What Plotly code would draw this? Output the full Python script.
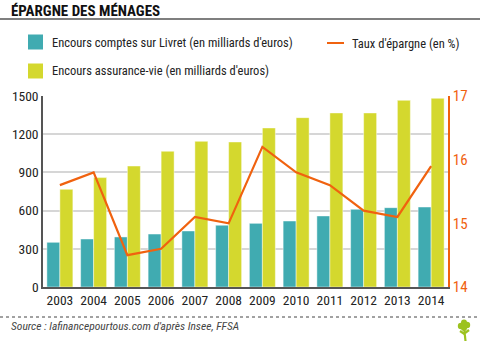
import plotly.graph_objects as go

# Household savings data, 2003-2014
years = ["2003", "2004", "2005", "2006", "2007", "2008",
         "2009", "2010", "2011", "2012", "2013", "2014"]
livret = [351, 377, 393, 416, 440, 485, 500, 518, 558, 610, 623, 628]
assurance_vie = [767, 859, 950, 1066, 1144, 1139, 1249, 1330, 1367, 1367, 1466, 1482]
taux_epargne = [15.6, 15.8, 14.5, 14.6, 15.1, 15.0, 16.2, 15.8, 15.6, 15.2, 15.1, 15.9]

left_ticks = [0, 300, 600, 900, 1200, 1500]
right_ticks = [14, 15, 16, 17]

TEAL = "#40abb1"
LIME = "#d4d82e"
ORANGE = "#f0620f"
TREE = "#9cc21f"
FONT = "Roboto Condensed, DejaVu Sans Condensed, sans-serif"

W, H = 480, 342
ML, MR, MT, MB = 43, 32, 96, 55
PW, PH = W - ML - MR, H - MT - MB


def to_paper(px, py):
    """Convert page pixel coordinates to paper coordinates."""
    return (px - ML) / PW, (H - MB - py) / PH


fig = go.Figure()
fig.add_trace(go.Bar(x=years, y=livret, name="Encours comptes sur Livret (en milliards d'euros)",
                     marker=dict(color=TEAL, line=dict(color="rgba(255,255,255,0.45)", width=1))))
fig.add_trace(go.Bar(x=years, y=assurance_vie, name="Encours assurance-vie (en milliards d'euros)",
                     marker=dict(color=LIME, line=dict(color="rgba(255,255,255,0.45)", width=1))))
fig.add_trace(go.Scatter(x=years, y=taux_epargne, name="Taux d'épargne (en %)", yaxis="y2",
                         mode="lines", line=dict(color=ORANGE, width=2.2)))

fig.update_layout(
    width=W, height=H,
    margin=dict(l=ML, r=MR, t=MT, b=MB),
    paper_bgcolor="white", plot_bgcolor="white",
    barmode="group", bargap=0.23, bargroupgap=0,
    showlegend=False,
    font=dict(family=FONT, size=13, color="#222"),
    xaxis=dict(type="category", range=[-0.5, 11.5], showgrid=False, ticks="",
               showline=True, linecolor="#555", linewidth=2,
               tickfont=dict(size=13.5, color="#222")),
    yaxis=dict(range=[0, 1500], tickvals=left_ticks, showgrid=True, gridcolor="#d6d6d6",
               gridwidth=1.5, zeroline=False, showline=True, linecolor="#555", linewidth=1.5,
               ticks="", tickfont=dict(size=13.5, color="#222")),
    yaxis2=dict(range=[14, 17], tickvals=right_ticks, overlaying="y", side="right",
                showgrid=False, zeroline=False, showline=True, linecolor=ORANGE, linewidth=1.5,
                ticks="", tickfont=dict(size=15, color=ORANGE)),
)

shapes = []
annotations = []

# Header title and rule
tx, ty = to_paper(9, 11)
annotations.append(dict(text="<b>ÉPARGNE DES MÉNAGES</b>", x=tx, y=ty, xref="paper", yref="paper",
                        showarrow=False, xanchor="left", yanchor="middle",
                        font=dict(size=15, color="#111", family=FONT)))
x0, y0 = to_paper(0, 19)
x1, _ = to_paper(W, 19)
shapes.append(dict(type="line", xref="paper", yref="paper", x0=x0, x1=x1, y0=y0, y1=y0,
                   line=dict(color="#555", width=1.5)))

# Legend drawn by hand: (kind, colour, x px, y px, label)
legend_items = [
    ("square", TEAL, 28, 42, "Encours comptes sur Livret (en milliards d'euros)"),
    ("square", LIME, 28, 71, "Encours assurance-vie (en milliards d'euros)"),
    ("line", ORANGE, 327, 43, "Taux d'épargne (en %)"),
]
for kind, col, lx, ly, label in legend_items:
    if kind == "square":
        a, b = to_paper(lx, ly + 7.5)
        c, d = to_paper(lx + 15, ly - 7.5)
        shapes.append(dict(type="rect", xref="paper", yref="paper", x0=a, x1=c, y0=b, y1=d,
                           fillcolor=col, line=dict(width=0)))
        tx = lx + 22
    else:
        a, b = to_paper(lx, ly)
        c, _ = to_paper(lx + 17, ly)
        shapes.append(dict(type="line", xref="paper", yref="paper", x0=a, x1=c, y0=b, y1=b,
                           line=dict(color=col, width=2)))
        tx = lx + 23
    ax, ay = to_paper(tx, ly)
    annotations.append(dict(text=label, x=ax, y=ay, xref="paper", yref="paper", showarrow=False,
                            xanchor="left", yanchor="middle", font=dict(size=12.5, color="#222")))

# Footer dotted rule and source line
x0, y0 = to_paper(0, 317)
x1, _ = to_paper(W, 317)
shapes.append(dict(type="line", xref="paper", yref="paper", x0=x0, x1=x1, y0=y0, y1=y0,
                   line=dict(color="#444", width=1, dash="dot")))
sx, sy = to_paper(9, 326)
annotations.append(dict(text="<i>Source : lafinancepourtous.com d'après Insee, FFSA</i>",
                        x=sx, y=sy, xref="paper", yref="paper", showarrow=False,
                        xanchor="left", yanchor="middle",
                        font=dict(size=11.5, color="#444")))

# Small tree emblem in the bottom-right corner
for cx, cy, r in [(461, 326, 3.2), (467, 325, 3.2), (464, 322.5, 3.0), (464, 328, 3.0)]:
    a, b = to_paper(cx - r, cy + r)
    c, d = to_paper(cx + r, cy - r)
    shapes.append(dict(type="circle", xref="paper", yref="paper", x0=a, x1=c, y0=b, y1=d,
                       fillcolor=TREE, line=dict(width=0)))
for (px0, py0, px1, py1) in [(464, 327, 465.5, 341), (465, 333, 469, 330), (464.5, 334, 460, 331)]:
    a, b = to_paper(px0, py0)
    c, d = to_paper(px1, py1)
    shapes.append(dict(type="line", xref="paper", yref="paper", x0=a, x1=c, y0=b, y1=d,
                       line=dict(color=TREE, width=2.2)))

fig.update_layout(shapes=shapes, annotations=annotations)
fig.write_html("out.html")
